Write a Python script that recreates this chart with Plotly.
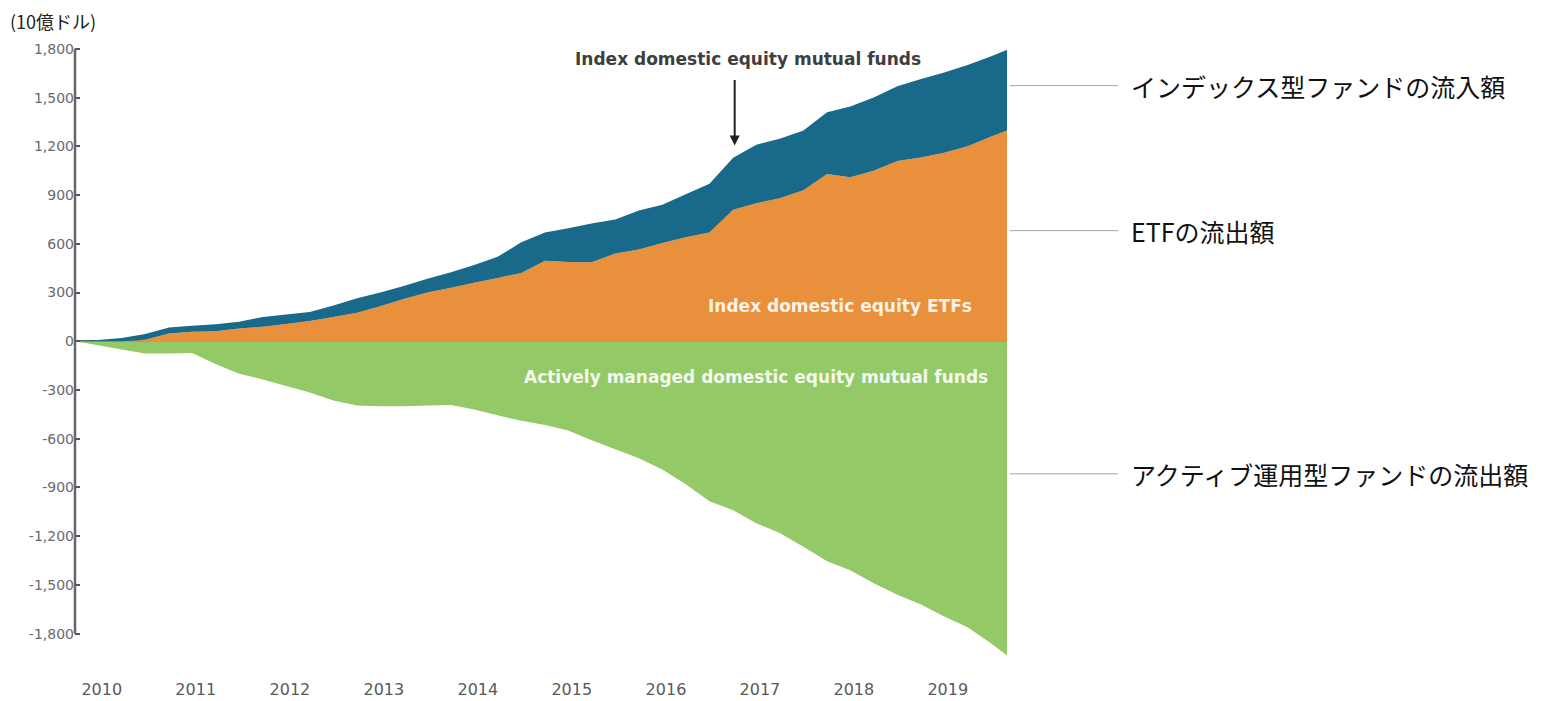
import pandas as pd
import plotly.graph_objects as go

# quarterly readings, Jan 2010 .. Dec 2019 (billions of dollars, cumulative)
months = list(range(0, 118, 3)) + [119]
dates = [pd.Timestamp('2010-01-01') + pd.DateOffset(months=m) for m in months]

etf = [0, 0, 0, 10, 48, 58, 62, 78, 90, 106, 125, 150, 175, 215, 260, 300,
       330, 360, 390, 420, 495, 488, 486, 540, 565, 605, 640, 670, 810, 850,
       880, 930, 1030, 1010, 1050, 1110, 1132, 1160, 1200, 1260, 1297]
index_mf = [0, 8, 20, 35, 37, 37, 43, 42, 60, 59, 55, 70, 90, 85, 80, 85,
            95, 110, 130, 190, 175, 207, 239, 210, 240, 235, 265, 300, 320, 360,
            366, 367, 380, 435, 450, 460, 483, 495, 500, 495, 498]
active = [0, -25, -50, -75, -75, -72, -140, -200, -235, -275, -315, -365, -395, -400, -400, -395,
          -392, -420, -455, -490, -515, -550, -610, -665, -720, -790, -880, -985, -1040, -1120,
          -1180, -1265, -1355, -1410, -1490, -1560, -1620, -1695, -1760, -1860, -1935]

years = [str(y) for y in range(2010, 2020)]
y_ticks = [-1800, -1500, -1200, -900, -600, -300, 0, 300, 600, 900, 1200, 1500, 1800]

BLUE = '#19698a'
ORANGE = '#e8903c'
GREEN = '#93c966'
JP = 'Noto Sans CJK JP'
EN = 'DejaVu Sans'

fig = go.Figure()
fig.add_trace(go.Scatter(x=dates, y=active, stackgroup='neg', mode='none',
                         fillcolor=GREEN, name='Active'))
fig.add_trace(go.Scatter(x=dates, y=etf, stackgroup='pos', mode='none',
                         fillcolor=ORANGE, name='ETF'))
fig.add_trace(go.Scatter(x=dates, y=index_mf, stackgroup='pos', mode='none',
                         fillcolor=BLUE, name='Index MF'))

# page body adds an 8px offset, so the figure is a bit smaller than the window
fig.update_layout(
    width=1548, height=693,
    margin=dict(l=67, r=549, t=36, b=43, autoexpand=False),
    paper_bgcolor='white', plot_bgcolor='white',
    showlegend=False,
    xaxis=dict(
        range=[dates[0], dates[-1]],
        tickvals=[pd.Timestamp(f'{y}-04-15') for y in years],
        ticktext=years,
        showgrid=False, zeroline=False, showline=False, ticks='',
        ticklabelstandoff=20, automargin=False,
        tickfont=dict(family=EN, size=16, color='#595959'),
    ),
    yaxis=dict(
        range=[-1950, 1830],
        tickvals=y_ticks,
        ticktext=[f'{v:,}' for v in y_ticks],
        showgrid=False, showline=False, automargin=False,
        zeroline=True, zerolinecolor='#6e6e6e', zerolinewidth=2,
        ticks='inside', ticklen=5, tickwidth=2, tickcolor='#555555',
        layer='above traces',
        tickfont=dict(family=EN, size=14, color='#6a6a6a'),
    ),
)

# y axis line only between -1,800 and 1,800
fig.add_shape(type='line', xref='paper', yref='y', x0=0, x1=0, y0=-1800, y1=1800,
              line=dict(color='#666666', width=2.5), layer='above')

fig.add_annotation(text='(10億ドル)', xref='paper', yref='paper', x=-0.072, y=1.037,
                   xanchor='left', yanchor='middle', showarrow=False,
                   font=dict(family=JP, size=18, color='#222222'))

fig.add_annotation(text='<b>Index domestic equity mutual funds</b>', x=pd.Timestamp('2017-03-01'), y=1740,
                   xanchor='center', yanchor='middle', showarrow=False,
                   font=dict(family=EN, size=17, color='#3e3e3e'))
fig.add_annotation(text='', x=pd.Timestamp('2017-01-07'), y=1205, ax=0, ay=-67,
                   showarrow=True, arrowhead=2, arrowsize=1, arrowwidth=2, arrowcolor='#222222')
fig.add_annotation(text='<b>Index domestic equity ETFs</b>', x=pd.Timestamp('2018-02-20'), y=219,
                   xanchor='center', yanchor='middle', showarrow=False,
                   font=dict(family=EN, size=17, color='#fdf3e6'))
fig.add_annotation(text='<b>Actively managed domestic equity mutual funds</b>',
                   x=pd.Timestamp('2017-04-01'), y=-219,
                   xanchor='center', yanchor='middle', showarrow=False,
                   font=dict(family=EN, size=17, color='#f3faee'))

# right-hand Japanese labels with leader lines
labels = ['インデックス型ファンドの流入額', 'ETFの流出額', 'アクティブ運用型ファンドの流出額']
label_y = [1574, 681, -816]
for txt, yv in zip(labels, label_y):
    fig.add_shape(type='line', xref='paper', yref='y', x0=1.003, x1=1.119, y0=yv, y1=yv,
                  line=dict(color='#a6a6a6', width=1))
    fig.add_annotation(text=txt, xref='paper', yref='y', x=1.131, y=yv,
                       xanchor='left', yanchor='middle', showarrow=False,
                       font=dict(family=JP, size=25, color='#111111'))

fig.write_html('out.html')
